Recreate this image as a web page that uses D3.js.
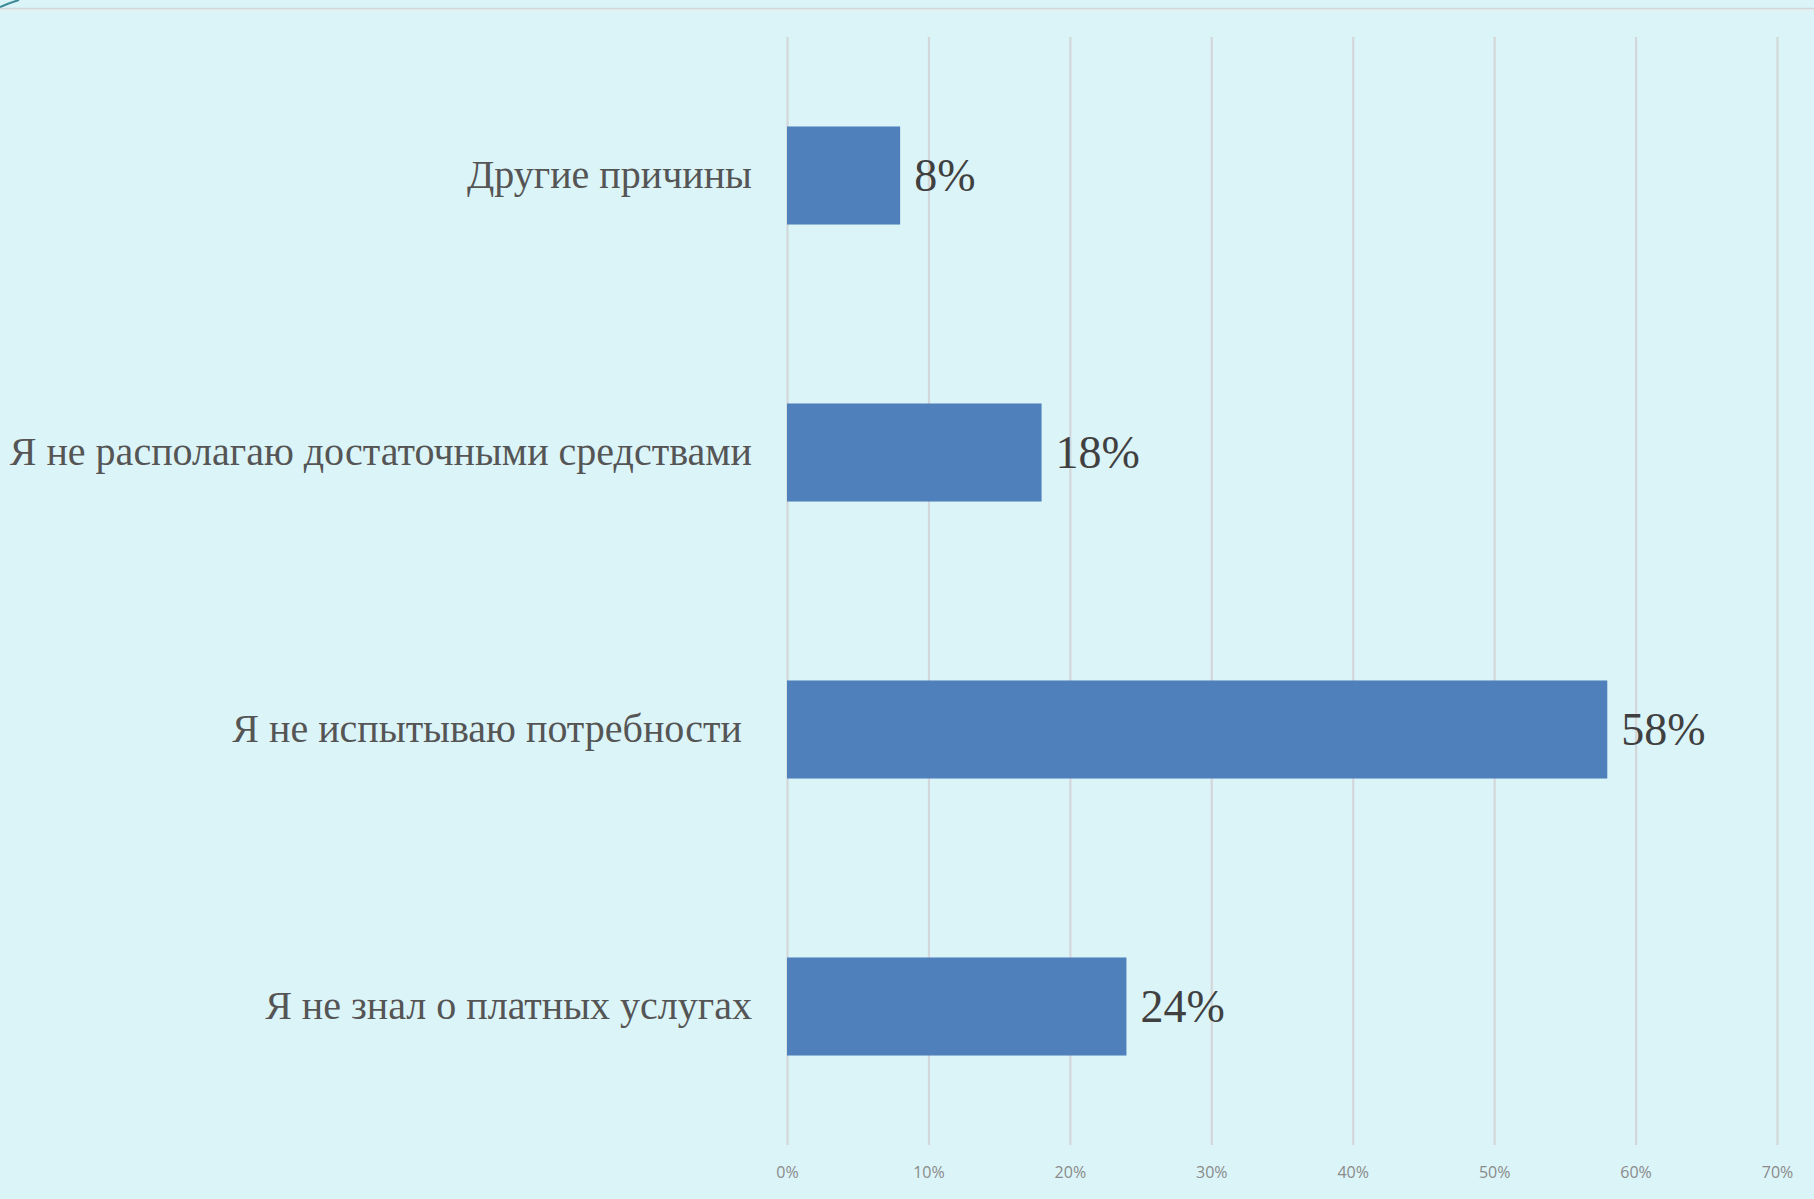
<!DOCTYPE html>
<html>
<head>
<meta charset="utf-8">
<script src="https://cdn.jsdelivr.net/npm/d3@7"></script>
<style>
  html, body { margin: 0; padding: 0; background: #dbf4f8; }
  svg { display: block; }
  .cat { white-space: pre; }
</style>
</head>
<body>
<svg id="chart" width="1814" height="1199"></svg>
<script>
// Reasons for not using paid services (share of respondents)
const categories = [
  "Другие причины",
  "Я не располагаю достаточными средствами",
  "Я не испытываю потребности ",
  "Я не знал о платных услугах"
];
const values = [0.08, 0.18, 0.58, 0.24];
const valueLabels = ["8%", "18%", "58%", "24%"];
const tickValues = [0, 0.1, 0.2, 0.3, 0.4, 0.5, 0.6, 0.7];
const tickLabels = ["0%", "10%", "20%", "30%", "40%", "50%", "60%", "70%"];

const svg = d3.select("#chart");
const W = 1814, H = 1199;

svg.append("rect").attr("width", W).attr("height", H).attr("fill", "#dbf4f8");

// slide header rule with a faint shadow, plus the corner flourish
svg.append("line").attr("x1", 0).attr("x2", W).attr("y1", 9.5).attr("y2", 9.5)
  .attr("stroke", "#e6eef0").attr("stroke-width", 3);
svg.append("line").attr("x1", 0).attr("x2", W).attr("y1", 8.5).attr("y2", 8.5)
  .attr("stroke", "#cfd8da").attr("stroke-width", 1.5);
svg.append("path").attr("d", "M0,7 Q9,3 19,0")
  .attr("fill", "none").attr("stroke", "#3f8a96").attr("stroke-width", 2);

const x = d3.scaleLinear().domain([0, 0.7]).range([787, 1777]);
const y = d3.scaleBand().domain(categories).range([37, 1145])
  .paddingInner(0.646).paddingOuter(0.323);

// vertical gridlines
const xAxis = d3.axisBottom(x)
  .tickValues(tickValues)
  .tickSize(-(1145 - 37))
  .tickPadding(22)
  .tickFormat((d, i) => tickLabels[i]);

const gx = svg.append("g").attr("transform", "translate(0,1145)").call(xAxis);
gx.select(".domain").remove();
gx.selectAll(".tick line").attr("stroke", "#d3d7d9").attr("stroke-width", 2.2);
gx.selectAll(".tick text")
  .attr("fill", "#8a8a8a")
  .attr("font-family", "'Liberation Sans Narrow', 'Open Sans', sans-serif")
  .attr("font-size", 16)
  .attr("dy", "0.71em");

// bars
svg.append("g").selectAll("rect")
  .data(categories)
  .join("rect")
  .attr("x", x(0))
  .attr("y", d => y(d))
  .attr("width", (d, i) => x(values[i]) - x(0))
  .attr("height", y.bandwidth())
  .attr("fill", "#4f80bb");

// value labels
svg.append("g").selectAll("text")
  .data(categories)
  .join("text")
  .attr("x", (d, i) => x(values[i]) + 14)
  .attr("y", d => y(d) + y.bandwidth() / 2)
  .attr("dy", "0.34em")
  .attr("font-family", "'Liberation Serif', 'Times New Roman', serif")
  .attr("font-size", 46)
  .attr("fill", "#404040")
  .text((d, i) => valueLabels[i]);

// category labels
svg.append("g").selectAll("text")
  .data(categories)
  .join("text")
  .attr("class", "cat")
  .attr("x", 752)
  .attr("y", d => y(d) + y.bandwidth() / 2)
  .attr("dy", "0.3em")
  .attr("text-anchor", "end")
  .attr("font-family", "'Liberation Serif', 'Times New Roman', serif")
  .attr("font-size", 40)
  .attr("fill", "#555555")
  .text(d => d);
</script>
</body>
</html>
